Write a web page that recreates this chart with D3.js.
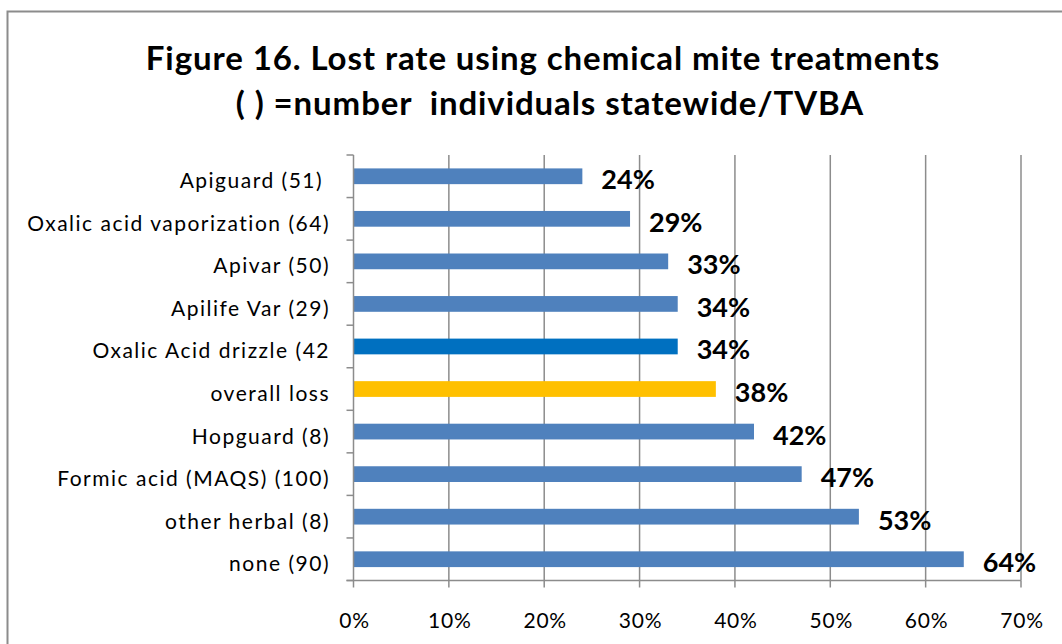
<!DOCTYPE html>
<html><head><meta charset="utf-8">
<script src="https://cdn.jsdelivr.net/npm/d3@7"></script>
<style>body{margin:0;background:#fff;} svg{display:block;}</style>
</head><body>
<svg id="chart" width="1062" height="644"></svg>
<script>
const categories = ["Apiguard (51) ","Oxalic acid vaporization (64)","Apivar (50)","Apilife Var (29)","Oxalic Acid drizzle (42","overall loss","Hopguard (8)","Formic acid (MAQS) (100)","other herbal (8)","none (90)"];
const values = [0.24,0.29,0.33,0.34,0.34,0.38,0.42,0.47,0.53,0.64];
const barColors = ["#4F81BD","#4F81BD","#4F81BD","#4F81BD","#0070C0","#FFC000","#4F81BD","#4F81BD","#4F81BD","#4F81BD"];
const valueLabels = ["24%","29%","33%","34%","34%","38%","42%","47%","53%","64%"];
const xTicks = [0,0.1,0.2,0.3,0.4,0.5,0.6,0.7];
const titleLines = ["Figure 16. Lost rate using chemical mite treatments","( ) =number  individuals statewide/TVBA"];

const font = "Lato, 'Open Sans', sans-serif";
const svg = d3.select("#chart");
svg.append("rect").attr("x",7.5).attr("y",11.5).attr("width",1100).attr("height",700)
  .attr("fill","#fff").attr("stroke","#8c8c8c").attr("stroke-width",2);

const pLeft=353.5, pRight=1021, pTop=155, pBottom=580.5;
const x = d3.scaleLinear().domain([0,0.7]).range([pLeft,pRight]);
const y = d3.scaleBand().domain(categories).range([pTop,pBottom]).paddingInner(0.63).paddingOuter(0.315);

svg.selectAll("text.title").data(titleLines).join("text").attr("class","title")
  .attr("x",(d,i)=> i===0?543:550).attr("y",(d,i)=>[69.5,115][i])
  .attr("text-anchor","middle").attr("font-family",font).attr("font-weight","bold")
  .attr("font-size",33).attr("letter-spacing",0.9).attr("fill","#000").style("white-space","pre").text(d=>d);

svg.append("g").selectAll("line").data(xTicks.slice(1)).join("line")
  .attr("x1",d=>x(d)).attr("x2",d=>x(d)).attr("y1",pTop).attr("y2",pBottom)
  .attr("stroke","#8c8c8c").attr("stroke-width",1.5);

svg.append("g").selectAll("rect").data(values).join("rect")
  .attr("x",pLeft).attr("y",(d,i)=>y(categories[i]))
  .attr("width",d=>x(d)-pLeft).attr("height",y.bandwidth())
  .attr("fill",(d,i)=>barColors[i]);

const yAxisLine = d3.scaleLinear().domain([0,10]).range([pTop,pBottom]);
const ga = svg.append("g");
ga.append("line").attr("x1",pLeft).attr("x2",pLeft).attr("y1",pTop).attr("y2",pBottom).attr("stroke","#8c8c8c").attr("stroke-width",1.5);
ga.selectAll("line.t").data(d3.range(11)).join("line").attr("class","t")
  .attr("x1",pLeft-7).attr("x2",pLeft).attr("y1",d=>yAxisLine(d)).attr("y2",d=>yAxisLine(d))
  .attr("stroke","#8c8c8c").attr("stroke-width",1.5);
ga.append("line").attr("x1",pLeft-7).attr("x2",pRight).attr("y1",pBottom).attr("y2",pBottom).attr("stroke","#8c8c8c").attr("stroke-width",1.5);
ga.selectAll("line.b").data(xTicks).join("line").attr("class","b")
  .attr("x1",d=>x(d)).attr("x2",d=>x(d)).attr("y1",pBottom).attr("y2",pBottom+7)
  .attr("stroke","#8c8c8c").attr("stroke-width",1.5);

svg.append("g").selectAll("text").data(categories).join("text")
  .attr("x",330).attr("y",d=>y(d)+y.bandwidth()/2+12)
  .attr("text-anchor","end").attr("font-family",font).attr("font-size",21).attr("letter-spacing",1.5).attr("fill","#000")
  .style("white-space","pre").text(d=>d);

svg.append("g").selectAll("text").data(xTicks).join("text")
  .attr("x",d=>x(d)+1).attr("y",628).attr("text-anchor","middle")
  .attr("font-family",font).attr("font-size",21).attr("letter-spacing",0.8).attr("fill","#000").text(d3.format(".0%"));

svg.append("g").selectAll("text").data(values).join("text")
  .attr("x",d=>x(d)+19).attr("y",(d,i)=>y(categories[i])+y.bandwidth()/2+13)
  .attr("font-family",font).attr("font-weight","bold").attr("font-size",27).attr("fill","#000")
  .text((d,i)=>valueLabels[i]);
</script>
</body></html>
